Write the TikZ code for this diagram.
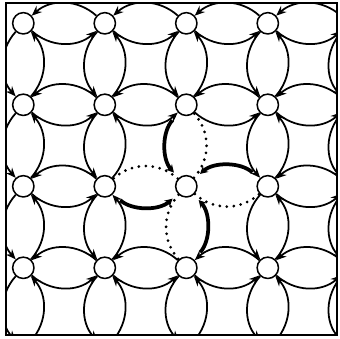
\documentclass[tikz,border=0pt]{standalone}
\usepackage{tikz}
\usetikzlibrary{arrows.meta}

\begin{document}
\begin{tikzpicture}[x=0.03cm,y=-0.03cm]
\tikzset{every node/.style={draw,circle,line width=1.3pt,minimum size=0.64cm,inner sep=0pt}}
\tikzset{>={Stealth[length=8.5pt,width=7pt]}}
\tikzset{flow/.style={->,line width=1.5pt,bend right=42}}
\tikzset{inflow/.style={-{Stealth[length=6.5pt,width=7pt]},line width=3.2pt,bend right=42,shorten <=8pt,shorten >=6pt}}
\tikzset{outflow/.style={line width=2.6pt,line cap=round,dash pattern=on 0pt off 6pt,bend right=42}}
\useasboundingbox (0,0) rectangle (339,339);
\begin{scope}
\clip (6,3) rectangle (337,335);
\node (11) at (23.3,23.3) {};
\node (12) at (104.8,23.3) {};
\node (13) at (186.3,23.3) {};
\node (14) at (267.8,23.3) {};
\node (15) at (349.3,23.3) [draw=none] {};
\node (21) at (23.3,104.8) {};
\node (22) at (104.8,104.8) {};
\node (23) at (186.3,104.8) {};
\node (24) at (267.8,104.8) {};
\node (25) at (349.3,104.8) [draw=none] {};
\node (31) at (23.3,186.3) {};
\node (32) at (104.8,186.3) {};
\node (33) at (186.3,186.3) {};
\node (34) at (267.8,186.3) {};
\node (35) at (349.3,186.3) [draw=none] {};
\node (41) at (23.3,267.8) {};
\node (42) at (104.8,267.8) {};
\node (43) at (186.3,267.8) {};
\node (44) at (267.8,267.8) {};
\node (45) at (349.3,267.8) [draw=none] {};
\node (51) at (23.3,349.3) [draw=none] {};
\node (52) at (104.8,349.3) [draw=none] {};
\node (53) at (186.3,349.3) [draw=none] {};
\node (54) at (267.8,349.3) [draw=none] {};
\node (55) at (349.3,349.3) [draw=none] {};

\path
(11) edge [flow] (12) (12) edge [flow] (11)
(12) edge [flow] (13) (13) edge [flow] (12)
(13) edge [flow] (14) (14) edge [flow] (13)
(14) edge [flow] (15) (15) edge [flow] (14)
(21) edge [flow] (22) (22) edge [flow] (21)
(22) edge [flow] (23) (23) edge [flow] (22)
(23) edge [flow] (24) (24) edge [flow] (23)
(24) edge [flow] (25) (25) edge [flow] (24)
(31) edge [flow] (32) (32) edge [flow] (31)
(32) edge [inflow] (33) (33) edge [outflow] (32)
(34) edge [inflow] (33) (33) edge [outflow] (34)
(34) edge [flow] (35) (35) edge [flow] (34)
(41) edge [flow] (42) (42) edge [flow] (41)
(42) edge [flow] (43) (43) edge [flow] (42)
(43) edge [flow] (44) (44) edge [flow] (43)
(44) edge [flow] (45) (45) edge [flow] (44);

\path
(11) edge [flow] (21) (21) edge [flow] (11)
(21) edge [flow] (31) (31) edge [flow] (21)
(31) edge [flow] (41) (41) edge [flow] (31)
(41) edge [flow] (51) (51) edge [flow] (41)
(12) edge [flow] (22) (22) edge [flow] (12)
(22) edge [flow] (32) (32) edge [flow] (22)
(32) edge [flow] (42) (42) edge [flow] (32)
(42) edge [flow] (52) (52) edge [flow] (42)
(13) edge [flow] (23) (23) edge [flow] (13)
(23) edge [inflow] (33) (33) edge [outflow] (23)
(43) edge [inflow] (33) (33) edge [outflow] (43)
(43) edge [flow] (53) (53) edge [flow] (43)
(14) edge [flow] (24) (24) edge [flow] (14)
(24) edge [flow] (34) (34) edge [flow] (24)
(34) edge [flow] (44) (44) edge [flow] (34)
(44) edge [flow] (54) (54) edge [flow] (44)
(15) edge [flow] (25) (25) edge [flow] (15)
(25) edge [flow] (35) (35) edge [flow] (25)
(35) edge [flow] (45) (45) edge [flow] (35)
(45) edge [flow] (55) (55) edge [flow] (45);
\end{scope}
\draw [line width=1.6pt] (6,3) rectangle (337,335);
\end{tikzpicture}
\end{document}
